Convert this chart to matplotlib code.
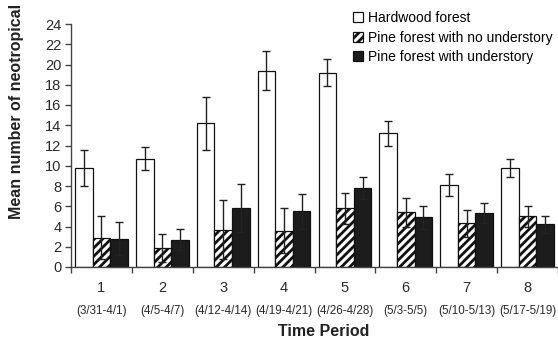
import matplotlib
matplotlib.use("Agg")
import matplotlib.pyplot as plt
import matplotlib.transforms as mtransforms
import numpy as np

plt.rcParams['font.family'] = ['Liberation Sans', 'DejaVu Sans']
plt.rcParams['hatch.linewidth'] = 2.0

periods = ['1', '2', '3', '4', '5', '6', '7', '8']
dates = ['(3/31-4/1)', '(4/5-4/7)', '(4/12-4/14)', '(4/19-4/21)',
         '(4/26-4/28)', '(5/3-5/5)', '(5/10-5/13)', '(5/17-5/19)']

hardwood = [9.8, 10.7, 14.2, 19.4, 19.2, 13.2, 8.1, 9.8]
hardwood_err = [1.8, 1.15, 2.6, 1.9, 1.3, 1.25, 1.1, 0.9]
pine_no_under = [2.9, 1.85, 3.7, 3.6, 5.8, 5.4, 4.3, 5.0]
pine_no_under_err = [2.1, 1.4, 2.95, 2.2, 1.55, 1.45, 1.3, 1.05]
pine_under = [2.8, 2.7, 5.8, 5.5, 7.8, 4.9, 5.3, 4.2]
pine_under_err = [1.65, 1.05, 2.35, 1.7, 1.1, 1.1, 1.0, 0.8]

labels = ['Hardwood forest', 'Pine forest with no understory', 'Pine forest with understory']

fig = plt.figure(figsize=(5.58, 3.41), dpi=100)
ax = fig.add_axes([71 / 558, 74 / 341, 487 / 558, 243 / 341])

x = np.arange(len(periods))
w = 0.289
ecol = '#222222'
err_kw = dict(ecolor=ecol, elinewidth=1.0, capsize=3, capthick=1.0)

ax.bar(x - w, hardwood, w, yerr=hardwood_err, color='white', edgecolor='#111111',
       linewidth=0.9, error_kw=err_kw, label=labels[0], zorder=2)
ax.bar(x, pine_no_under, w, yerr=pine_no_under_err, color='white', edgecolor='#111111',
       hatch='////', linewidth=0.9, error_kw=err_kw, label=labels[1], zorder=2)
ax.bar(x + w, pine_under, w, yerr=pine_under_err, color='#1c1c1c', edgecolor='#111111',
       linewidth=0.9, error_kw=err_kw, label=labels[2], zorder=2)

ax.set_xlim(-0.5, 7.44)
ax.set_ylim(0, 24)
ax.set_yticks(range(0, 25, 2))
ax.set_xticks(np.arange(-0.5, 8, 1.0))
ax.set_xticklabels([])
for s in ['top', 'right']:
    ax.spines[s].set_visible(False)
for s in ['left', 'bottom']:
    ax.spines[s].set_color('#444444')
    ax.spines[s].set_linewidth(1.0)
ax.tick_params(axis='both', direction='out', length=4, width=1.0, color='#444444',
               labelsize=10.5, labelcolor='#2a2a2a')
ax.tick_params(axis='y', pad=3)

trans = mtransforms.blended_transform_factory(ax.transData, fig.transFigure)
for i in range(len(periods)):
    ax.text(x[i], 1 - 287.5 / 341, periods[i], transform=trans, ha='center', va='center',
            fontsize=10.5, color='#2a2a2a')
    ax.text(x[i], 1 - 311 / 341, dates[i], transform=trans, ha='center', va='center',
            fontsize=8.4, color='#2a2a2a')

fig.text(324 / 558, 1 - 331 / 341, 'Time Period', ha='center', va='center',
         fontsize=11.5, fontweight='bold', color='#222222')
fig.text(17 / 558, 1 - 219 / 341, 'Mean number of neotropical', rotation=90,
         ha='center', va='bottom', fontsize=11.5, fontweight='bold', color='#222222')

ax.legend(loc='upper left', bbox_to_anchor=(353 / 558, 1 - 11 / 341),
          bbox_transform=fig.transFigure, frameon=False, fontsize=10,
          handlelength=0.75, handleheight=0.75, handletextpad=0.3,
          labelspacing=0.4, borderpad=0, borderaxespad=0)

fig.savefig('out.png', dpi=100)
